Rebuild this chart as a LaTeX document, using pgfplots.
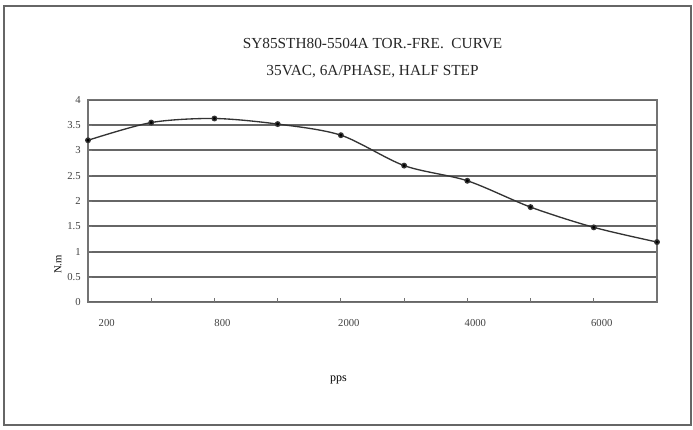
\documentclass[border=0pt]{standalone}
\usepackage{pgfplots}
\pgfplotsset{compat=1.18}
\usepackage{fontspec}
\setmainfont{Liberation Serif}
\begin{document}
\begin{tikzpicture}
\begin{axis}[
    scale only axis,
    width=427pt,
    height=152pt,
    xmin=0, xmax=9,
    ymin=0, ymax=4,
    xtick={0,1,...,9},
    xticklabels={\hspace{16pt}200,,800,,2000,,4000,,6000,},
    ytick={0,0.5,...,4},
    yticklabels={0,0.5,1,1.5,2,2.5,3,3.5,4},
    ymajorgrids,
    major grid style={gray!80!black, line width=1.5pt},
    axis line style={gray!90!black, line width=1pt},
    tick style={gray!90!black, line width=0.6pt},
    major tick length=3pt,
    tick align=inside,
    xtick pos=bottom, ytick pos=left,
    tick label style={font=\fontsize{8}{9}\selectfont, text=black!75},
    xticklabel style={yshift=-9pt, xshift=6pt},
    yticklabel style={xshift=-2pt},
    ylabel={N.m},
    ylabel style={font=\fontsize{8}{9}\selectfont, at={(rel axis cs:-0.053,0.187)}, anchor=center, rotate=0},
    xlabel={pps},
    xlabel style={font=\fontsize{9}{10}\selectfont, at={(rel axis cs:0.44,-0.385)}, anchor=center},
    title={SY85STH80-5504A TOR.-FRE.\ \ CURVE\\35VAC, 6A/PHASE, HALF STEP},
    title style={font=\fontsize{11.5}{20}\selectfont, align=center, text=black!85, at={(rel axis cs:0.5,1.165)}, anchor=center},
    clip=false,
]
\addplot[black!80, line width=1pt, smooth, mark=*, mark size=1.7pt, mark options={fill=black}]
coordinates {
    (0,3.20)
    (1,3.55)
    (2,3.63)
    (3,3.52)
    (4,3.30)
    (5,2.70)
    (6,2.40)
    (7,1.88)
    (8,1.48)
    (9,1.19)
};
\coordinate (bbA) at (rel axis cs:-0.1547,-0.6256);
\coordinate (bbB) at (rel axis cs:1.0633,1.4926);
\coordinate (frA) at (rel axis cs:-0.1476,-0.6059);
\coordinate (frB) at (rel axis cs:1.0598,1.4631);
\end{axis}
\path (bbA) rectangle (bbB);
\draw[gray!80!black, line width=1.2pt] (frA) rectangle (frB);
\end{tikzpicture}
\end{document}
